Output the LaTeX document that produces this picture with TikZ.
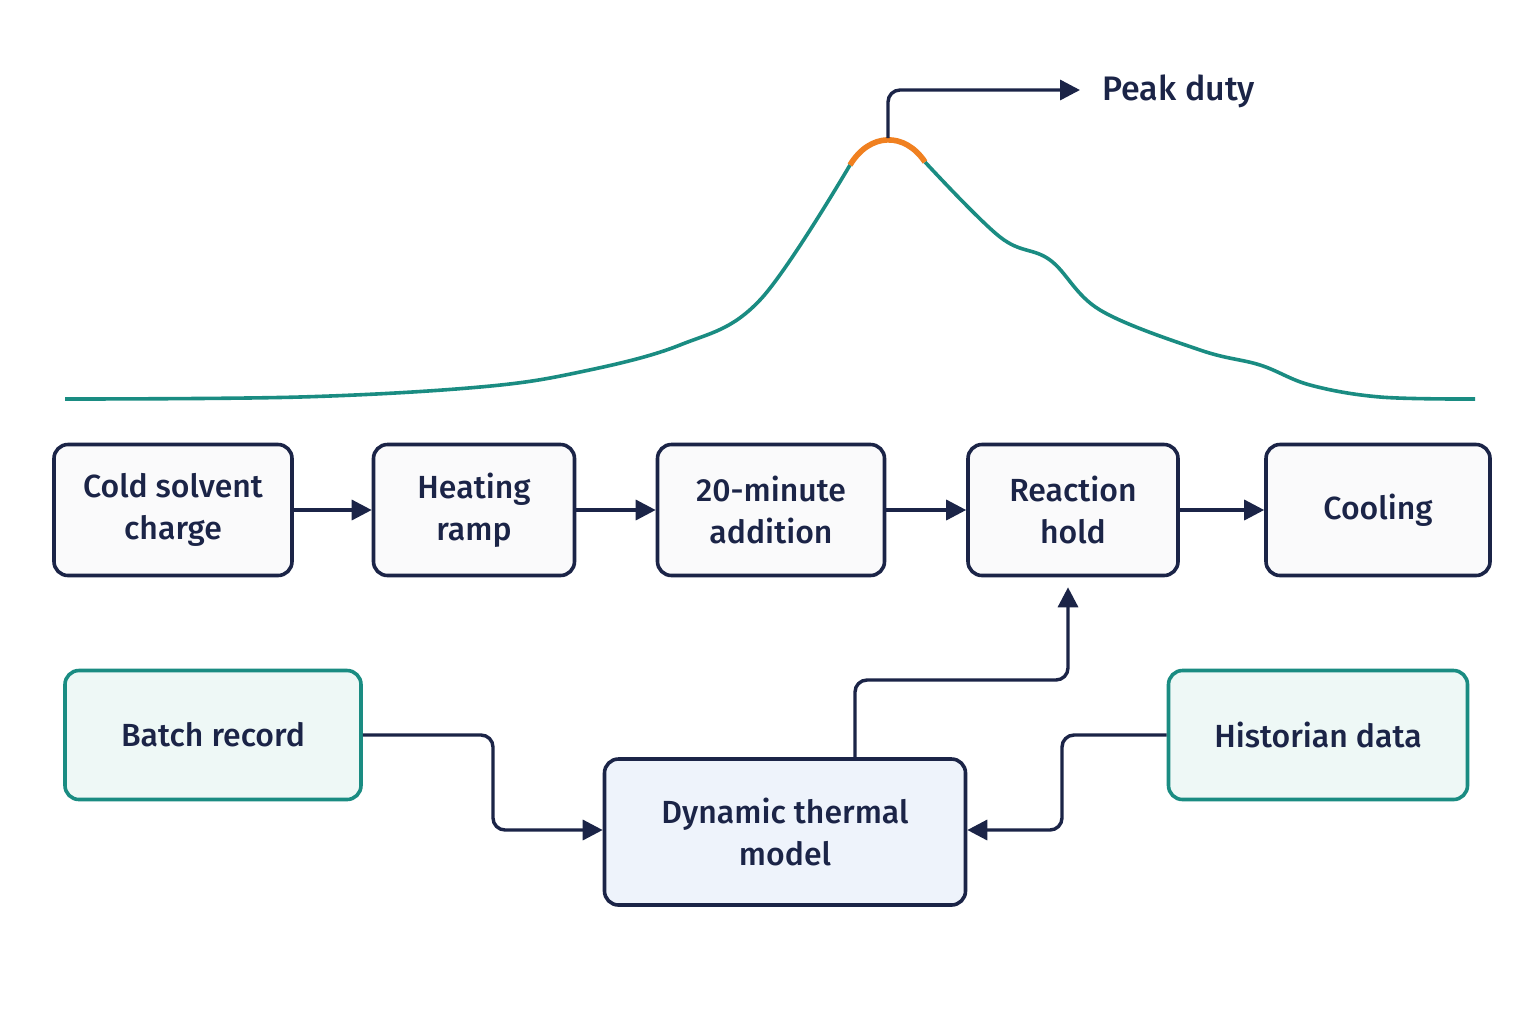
\documentclass[tikz,border=0pt]{standalone}
\usepackage{fontspec}
\setmainfont{Fira Sans}[UprightFont=* Medium]
\usetikzlibrary{arrows.meta}
\definecolor{navy}{HTML}{1B2447}
\definecolor{teal}{HTML}{1A8C82}
\definecolor{orng}{HTML}{F08020}
\definecolor{ltteal}{HTML}{EEF8F6}
\definecolor{ltblue}{HTML}{EEF3FB}
\definecolor{boxbg}{HTML}{FAFAFB}
\tikzset{
 stepbox/.style={draw=navy,line width=1.8pt,rounded corners=7pt,fill=boxbg,align=center,font=\fontsize{16}{21}\selectfont\color{navy},inner sep=0pt},
 srcbox/.style={draw=teal,line width=1.8pt,rounded corners=7pt,fill=ltteal,align=center,font=\fontsize{16}{21}\selectfont\color{navy},inner sep=0pt},
 conn/.style={draw=navy,line width=1.7pt,-{Triangle[length=10pt,width=10pt]},rounded corners=6pt}
}
\begin{document}
\begin{tikzpicture}[x=0.5pt,y=-0.5pt]
\useasboundingbox (0,0) rectangle (1536,1024);
\fill[white] (0,0) rectangle (1536,1024);
\node[stepbox,minimum width=119pt,minimum height=65.5pt] (a) at (173,510) {Cold solvent\\charge};
\node[stepbox,minimum width=100.5pt,minimum height=65.5pt] (b) at (474,510) {Heating\\ramp};
\node[stepbox,minimum width=113.5pt,minimum height=65.5pt] (c) at (771,510) {20-minute\\addition};
\node[stepbox,minimum width=105pt,minimum height=65.5pt] (d) at (1073,510) {Reaction\\hold};
\node[stepbox,minimum width=112pt,minimum height=65.5pt] (e) at (1378,510) {Cooling};
\node[srcbox,minimum width=148pt,minimum height=64.5pt] (br) at (213,735) {Batch record};
\node[srcbox,minimum width=149.5pt,minimum height=64.5pt] (hd) at (1318,735) {Historian data};
\node[stepbox,fill=ltblue,minimum width=180.5pt,minimum height=73pt] (m) at (785,832) {Dynamic thermal\\model};
\draw[conn] (a) -- (b);
\draw[conn] (b) -- (c);
\draw[conn] (c) -- (d);
\draw[conn] (d) -- (e);
\draw[conn] (br.east) -- (493,735) -- (493,830) -- (m.west |- 0,830);
\draw[conn] (hd.west) -- (1062,735) -- (1062,830) -- (m.east |- 0,830);
\draw[conn] (855,759) -- (855,680) -- (1068,680) -- ([yshift=-5pt]d.south -| 1068,0);
\draw[teal,line width=1.8pt] plot[smooth,tension=0.6] coordinates {(65,399) (300,397) (480,387) (580,372) (680,345) (760,300) (850,165)};
\draw[teal,line width=1.8pt] plot[smooth,tension=0.6] coordinates {(925,162) (1000,237) (1050,260) (1100,310) (1200,350) (1260,365) (1310,385) (1380,397) (1475,399)};
\draw[orng,line width=2.8pt] (850,165) .. controls (870,132) and (905,132) .. (925,162);
\coordinate (pk) at (888,138);
\node[anchor=west,font=\fontsize{17}{20}\selectfont\color{navy},inner sep=0pt] (pd) at (1102,91) {Peak duty};
\draw[conn] (pk) -- (888,90) -- (1080,90);
\end{tikzpicture}
\end{document}
